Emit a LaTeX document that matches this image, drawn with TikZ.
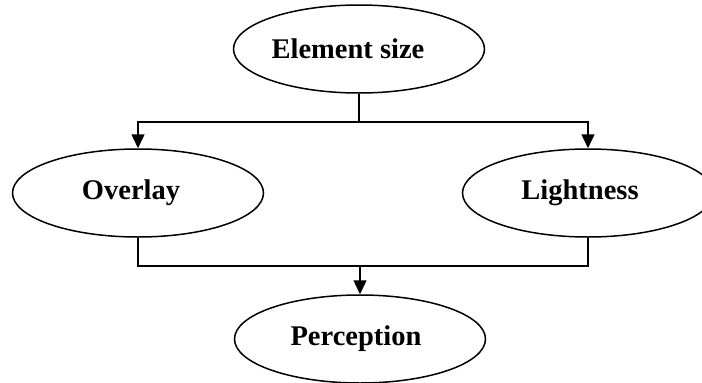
\documentclass[tikz,border=0pt]{standalone}
\usepackage{fontspec}
\setmainfont{Liberation Serif}
\usetikzlibrary{shapes.geometric,arrows.meta}
\tikzset{
  oval/.style={ellipse, draw, line width=1.5pt, minimum width=251pt, minimum height=88pt,
    inner sep=0pt, font=\bfseries\fontsize{28.5}{30}\selectfont},
  link/.style={line width=1.5pt},
  arrowlink/.style={link, -{Triangle[length=14pt,width=13pt]}}
}
\begin{document}
\begin{tikzpicture}[x=1pt,y=-1pt]
\useasboundingbox (0,0) rectangle (702,383);
\node[oval] (elem) at (359,49) {Element size\kern 22pt};
\node[oval] (over) at (138,193) {Overlay\kern 14pt};
\node[oval] (light) at (588,193) {Lightness\kern 16pt};
\node[oval] (perc) at (360,339) {Perception\kern 8pt};
\coordinate (top) at (359,122);
\coordinate (bot) at (360,266);
\draw[link] (elem.south) -- (top);
\draw[arrowlink] (top) -| (over.north);
\draw[arrowlink] (top) -| (light.north);
\draw[link] (over.south) |- (bot) -| (light.south);
\draw[arrowlink] (bot) -- (perc.north);
\end{tikzpicture}
\end{document}
